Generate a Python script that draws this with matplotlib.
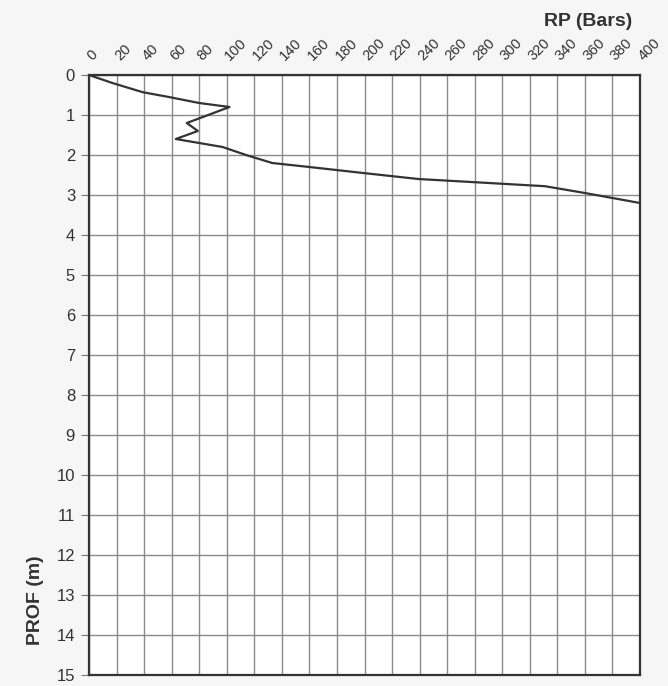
import matplotlib
matplotlib.use("Agg")
import matplotlib.pyplot as plt
import matplotlib.transforms as mtransforms

plt.rcParams['font.family'] = ['Liberation Sans', 'DejaVu Sans']

# Data
rp_bars = [0, 17, 39, 58, 80, 102, 71, 79, 63, 80, 97, 114, 133, 160, 199, 239, 280, 331, 360, 400]
depth_m = [0, 0.2, 0.43, 0.55, 0.7, 0.8, 1.2, 1.4, 1.6, 1.7, 1.8, 2.0, 2.2, 2.3, 2.45, 2.6, 2.68, 2.78, 2.95, 3.2]
x_ticks = list(range(0, 401, 20))
y_ticks = list(range(0, 16))

fig = plt.figure(figsize=(6.68, 6.86), dpi=100, facecolor='#f6f6f6')
ax = fig.add_axes([89/668, 1 - 675/686, (640 - 89)/668, 600/686])
ax.set_facecolor('white')

ax.plot(rp_bars, depth_m, color='#333333', lw=1.6)

ax.set_xlim(0, 400)
ax.set_ylim(15, 0)
ax.set_xticks(x_ticks)
ax.set_yticks(y_ticks)
ax.grid(True, color='#8a8a8a', lw=1.0)
ax.set_axisbelow(True)

ax.xaxis.tick_top()
ax.tick_params(axis='x', top=False, labeltop=True, labelbottom=False, pad=5,
               labelsize=10.5, labelcolor='#333333')
offset = mtransforms.ScaledTranslation(4/72, 0, fig.dpi_scale_trans)
for lab in ax.get_xticklabels():
    lab.set_rotation(45)
    lab.set_ha('left')
    lab.set_va('bottom')
    lab.set_rotation_mode('anchor')
    lab.set_transform(lab.get_transform() + offset)
ax.tick_params(axis='y', length=6, color='#777777', labelsize=12, labelcolor='#333333', pad=4)

for s in ax.spines.values():
    s.set_color('#333333')
    s.set_linewidth(1.6)

fig.text(588/668, 1 - 22/686, 'RP (Bars)', fontsize=14, fontweight='bold',
         color='#333333', ha='center', va='center')
fig.text(36/668, 1 - 600/686, 'PROF (m)', fontsize=14, fontweight='bold',
         color='#333333', ha='center', va='center', rotation=90)

fig.savefig('out.png', dpi=100, facecolor=fig.get_facecolor())
